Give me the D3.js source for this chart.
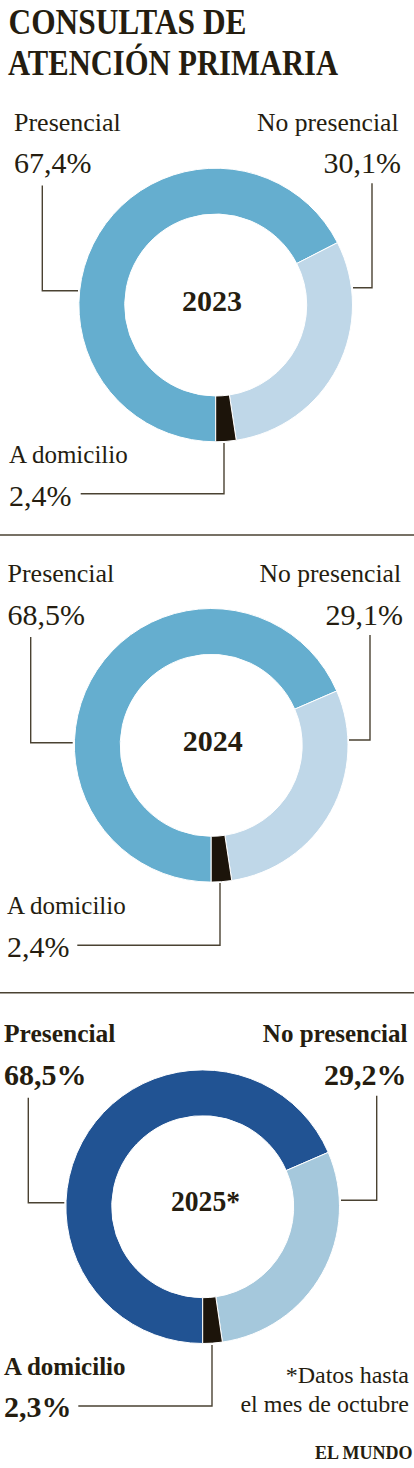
<!DOCTYPE html>
<html>
<head>
<meta charset="utf-8">
<script src="https://cdn.jsdelivr.net/npm/d3@7"></script>
<style>
  html, body { margin: 0; padding: 0; background: #fff; }
  svg { display: block; }
  text { font-family: "Liberation Serif", serif; fill: #251d10; }
</style>
</head>
<body>
<div id="chart"></div>
<script>
var years = ["2023", "2024", "2025*"];
var categories = ["Presencial", "No presencial", "A domicilio"];
var presencial = [67.4, 68.5, 68.5];
var noPresencial = [30.1, 29.1, 29.2];
var domicilio = [2.4, 2.4, 2.3];

var width = 414, height = 1468;
var lineColor = "#4a4232";

var svg = d3.select("#chart").append("svg")
  .attr("width", width)
  .attr("height", height);

// layout of each panel
var panels = [
  { cx: 215.7, cy: 305, colors: ["#65aecf", "#bfd7e8", "#1c140a"], bold: false,
    yearX: 212, yearY: 311, yearLen: null,
    lx: 14, rName: 398.5, rVal: 401, nameY: 130.5, valY: 173,
    bx: 9, bName: 462.5, bVal: 506,
    left: [[42.3, 185.5], [42.3, 290.7], [78, 290.7]],
    right: [[372, 183.3], [372, 287.7], [353, 287.7]],
    bottom: [[224, 443], [224, 493.7], [80.7, 493.7]] },
  { cx: 211.2, cy: 745.3, colors: ["#65aecf", "#bfd7e8", "#1c140a"], bold: false,
    yearX: 212.8, yearY: 751, yearLen: null,
    lx: 7.5, rName: 401, rVal: 403, nameY: 582, valY: 625,
    bx: 7, bName: 914, bVal: 957.3,
    left: [[30.7, 637], [30.7, 742.7], [72.7, 742.7]],
    right: [[370, 635], [370, 740], [349, 740]],
    bottom: [[220, 883], [220, 945.3], [77.3, 945.3]] },
  { cx: 202.7, cy: 1206.7, colors: ["#215393", "#a5c8dc", "#1c140a"], bold: true,
    yearX: 205.5, yearY: 1211, yearLen: 69,
    lx: 4, rName: 407.5, rVal: 406.5, nameY: 1042, valY: 1085,
    bx: 4, bName: 1375, bVal: 1417,
    left: [[28.3, 1097.7], [28.3, 1202.7], [64.3, 1202.7]],
    right: [[376.7, 1095.7], [376.7, 1200.3], [341, 1200.3]],
    bottom: [[212, 1345], [212, 1406], [78.3, 1406]] }
];

var pie = d3.pie().sort(null).startAngle(Math.PI).endAngle(3 * Math.PI);
var arc = d3.arc().innerRadius(91).outerRadius(136.8);
var line = d3.line();

function fmt(v) {
  return v.toFixed(1).replace(".", ",") + "%";
}

// title
svg.append("text").attr("x", 8.5).attr("y", 34)
  .attr("font-size", 36).attr("font-weight", 700)
  .attr("textLength", 238).attr("lengthAdjust", "spacingAndGlyphs")
  .text("CONSULTAS DE");
svg.append("text").attr("x", 8).attr("y", 75)
  .attr("font-size", 36).attr("font-weight", 700)
  .attr("textLength", 330).attr("lengthAdjust", "spacingAndGlyphs")
  .text("ATENCIÓN PRIMARIA");

// separators
[535, 992.7].forEach(function (y) {
  svg.append("line").attr("x1", 0).attr("x2", width).attr("y1", y).attr("y2", y)
    .attr("stroke", lineColor).attr("stroke-width", 1.4);
});

years.forEach(function (year, i) {
  var p = panels[i];
  var values = [presencial[i], noPresencial[i], domicilio[i]];
  var weight = p.bold ? 700 : 400;

  var g = svg.append("g").attr("transform", "translate(" + p.cx + "," + p.cy + ")");
  g.selectAll("path")
    .data(pie(values))
    .enter().append("path")
    .attr("d", arc)
    .attr("fill", function (d, j) { return p.colors[j]; })
    .attr("stroke", "#fff")
    .attr("stroke-width", 1);

  svg.append("text")
    .attr("x", p.yearX)
    .attr("y", p.yearY)
    .attr("text-anchor", "middle")
    .attr("font-size", 30)
    .attr("font-weight", 700)
    .attr("textLength", p.yearLen)
    .attr("lengthAdjust", "spacingAndGlyphs")
    .text(year);

  [p.left, p.right, p.bottom].forEach(function (pts) {
    svg.append("path")
      .attr("d", line(pts))
      .attr("fill", "none")
      .attr("stroke", lineColor)
      .attr("stroke-width", 1.4);
  });

  function label(x, y, size, anchor, txt) {
    svg.append("text").attr("x", x).attr("y", y)
      .attr("font-size", size)
      .attr("font-weight", weight)
      .attr("text-anchor", anchor)
      .text(txt);
  }
  label(p.lx, p.nameY, p.bold ? 25.5 : 26, "start", categories[0]);
  label(p.lx, p.valY, 30, "start", fmt(values[0]));
  label(p.rName, p.nameY, p.bold ? 25 : 25.6, "end", categories[1]);
  label(p.rVal, p.valY, 30, "end", fmt(values[1]));
  label(p.bx, p.bName, 25, "start", categories[2]);
  label(p.bx, p.bVal, 30, "start", fmt(values[2]));
});

// note and credit
svg.append("text").attr("x", 409).attr("y", 1383).attr("text-anchor", "end")
  .attr("font-size", 24).text("*Datos hasta");
svg.append("text").attr("x", 409).attr("y", 1412).attr("text-anchor", "end")
  .attr("font-size", 24).text("el mes de octubre");
svg.append("text").attr("x", 412.5).attr("y", 1458.7).attr("text-anchor", "end")
  .attr("font-size", 18).attr("font-weight", 700)
  .text("EL MUNDO");
</script>
</body>
</html>
